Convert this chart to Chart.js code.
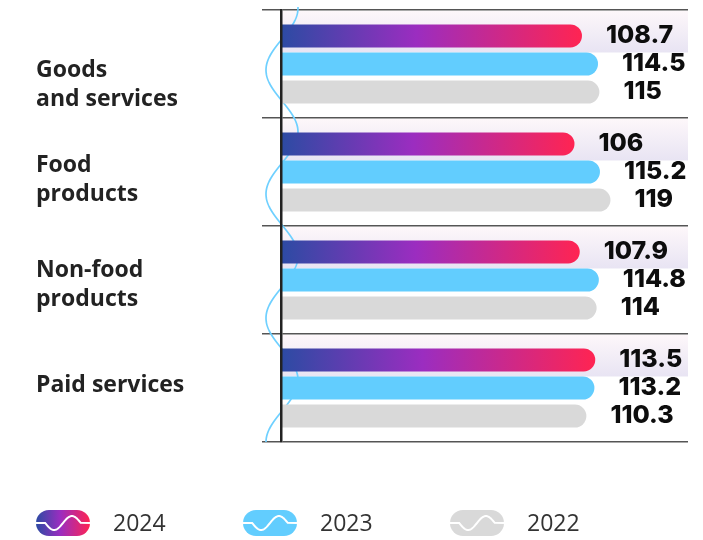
<!DOCTYPE html>
<html>
<head>
<meta charset="utf-8">
<title>Price indices</title>
<script src="https://cdn.jsdelivr.net/npm/chart.js@4.4.1/dist/chart.umd.min.js"></script>
<style>
  html, body { margin: 0; padding: 0; background: #fff; }
  #wrap { width: 703px; height: 540px; }
</style>
</head>
<body>
<div id="wrap"><canvas id="indexChart" width="703" height="540"></canvas></div>
<script>
const categories = [["Goods", "and services"], ["Food", "products"], ["Non-food", "products"], ["Paid services"]];
const years = ["2024", "2023", "2022"];
const values2024 = [108.7, 106, 107.9, 113.5];
const values2023 = [114.5, 115.2, 114.8, 113.2];
const values2022 = [115, 119, 114, 110.3];

const xMax = 147;
const blue = "#62cdfe";
const grey = "#d9d9d9";
const labelNudge = [20, 7, 4, -3]; // vertical shift of the category captions
const labelFont = "700 23px 'Open Sans'";
const valueFont = "800 25px Inter";

function purpleGradient(ctx, x0, x1) {
    const g = ctx.createLinearGradient(x0, 0, x1, 0);
    g.addColorStop(0, "#2c4ba3");
    g.addColorStop(0.45, "#9b2dc0");
    g.addColorStop(1, "#ff2452");
    return g;
}

// 2024 bars: gradient runs over each bar's own length
function barGradient(context) {
    const chart = context.chart;
    const area = chart.chartArea;
    if (!area || context.raw === undefined) return "#9b2dc0";
    const end = chart.scales.x.getPixelForValue(context.raw);
    return purpleGradient(chart.ctx, area.left, end);
}

// light band behind the 2024 row + the thin wave along the axis
const rowShade = {
    id: "rowShade",
    beforeDatasetsDraw(chart) {
        const { ctx, chartArea, scales: { y } } = chart;
        const band = y.getPixelForValue(1) - y.getPixelForValue(0);
        const meta = chart.getDatasetMeta(1);
        ctx.save();
        categories.forEach((c, i) => {
            const top = y.getPixelForValue(i) - band / 2 + 1;
            const bar = meta.data[i];
            const bottom = bar.y - bar.height / 2;
            const g = ctx.createLinearGradient(0, top, 0, bottom);
            g.addColorStop(0, "#fdf7fa");
            g.addColorStop(1, "#e8e4f3");
            ctx.fillStyle = g;
            ctx.fillRect(chartArea.left, top, chartArea.right - chartArea.left, bottom - top);
        });

        ctx.strokeStyle = "#6fd0ff";
        ctx.lineWidth = 1.7;
        ctx.beginPath();
        for (let py = chartArea.top - 3; py <= chartArea.bottom; py++) {
            const px = chartArea.left + 1 - 16 * Math.cos(2 * Math.PI * (py - chartArea.top - 60) / 124);
            if (py === chartArea.top - 3) ctx.moveTo(px, py); else ctx.lineTo(px, py);
        }
        ctx.stroke();
        ctx.restore();
    }
};

const valueLabels = {
    id: "valueLabels",
    afterDatasetsDraw(chart) {
        const ctx = chart.ctx;
        ctx.save();
        ctx.font = valueFont;
        ctx.fillStyle = "#0d0d0d";
        ctx.textAlign = "left";
        ctx.textBaseline = "alphabetic";
        chart.data.datasets.forEach((ds, d) => {
            chart.getDatasetMeta(d).data.forEach((bar, i) => {
                ctx.fillText(String(ds.data[i]), bar.x + 24, bar.y + 7);
            });
        });
        ctx.restore();
    }
};

const categoryLabels = {
    id: "categoryLabels",
    afterDraw(chart) {
        const ctx = chart.ctx;
        const y = chart.scales.y;
        const lh = 29;
        ctx.save();
        ctx.font = labelFont;
        ctx.fillStyle = "#222";
        ctx.textAlign = "left";
        ctx.textBaseline = "alphabetic";
        categories.forEach((lines, i) => {
            const mid = y.getPixelForValue(i) + labelNudge[i];
            let base = mid - (lines.length - 1) * lh / 2 + 7;
            lines.forEach(line => {
                ctx.fillText(line, 36, base);
                base += lh;
            });
        });
        ctx.restore();
    }
};

function drawLegendIcon(ctx, x, y, w, h, fill) {
    ctx.beginPath();
    ctx.roundRect(x, y, w, h, h / 2);
    ctx.fillStyle = fill;
    ctx.fill();
    const mid = y + h / 2;
    const x0 = x + w * 0.17, x1 = x + w * 0.83;
    ctx.beginPath();
    ctx.moveTo(x, mid);
    ctx.lineTo(x0, mid);
    for (let px = x0; px <= x1; px += 0.5) {
        ctx.lineTo(px, mid + 7 * Math.sin(2 * Math.PI * (px - x0) / (x1 - x0)));
    }
    ctx.lineTo(x + w, mid);
    ctx.strokeStyle = "#fff";
    ctx.lineWidth = 2;
    ctx.stroke();
}

const yearLegend = {
    id: "yearLegend",
    afterDraw(chart) {
        const ctx = chart.ctx;
        const iconW = 54, iconH = 26, top = 510, step = 207, left = 36;
        ctx.save();
        chart.data.datasets.forEach((ds, d) => {
            const x = left + d * step;
            const fill = d === 0 ? purpleGradient(ctx, x, x + iconW) : ds.backgroundColor;
            drawLegendIcon(ctx, x, top, iconW, iconH, fill);
            ctx.font = "400 23px 'Open Sans'";
            ctx.fillStyle = "#333";
            ctx.textAlign = "left";
            ctx.textBaseline = "middle";
            ctx.fillText(ds.label, x + 77, top + iconH / 2 + 1);
        });
        ctx.restore();
    }
};

new Chart(document.getElementById("indexChart"), {
    type: "bar",
    data: {
        labels: categories,
        datasets: [
            { label: years[0], data: values2024, backgroundColor: barGradient },
            { label: years[1], data: values2023, backgroundColor: blue },
            { label: years[2], data: values2022, backgroundColor: grey }
        ]
    },
    options: {
        indexAxis: "y",
        responsive: false,
        animation: false,
        layout: { padding: { left: 0, right: 15, top: 10, bottom: 98 } },
        datasets: {
            bar: {
                categoryPercentage: 0.78,
                barPercentage: 0.82,
                borderRadius: 12,
                borderSkipped: "start"
            }
        },
        scales: {
            x: { display: false, min: 0, max: xMax },
            y: {
                ticks: { display: false },
                grid: { offset: true, color: "#555", lineWidth: 1.5, tickLength: 19, drawTicks: true },
                border: { display: true, color: "#222", width: 2.5, z: 1 },
                afterFit(scale) { scale.width = 281; }
            }
        },
        plugins: {
            legend: { display: false },
            tooltip: { enabled: false }
        }
    },
    plugins: [rowShade, valueLabels, categoryLabels, yearLegend]
});
</script>
</body>
</html>
